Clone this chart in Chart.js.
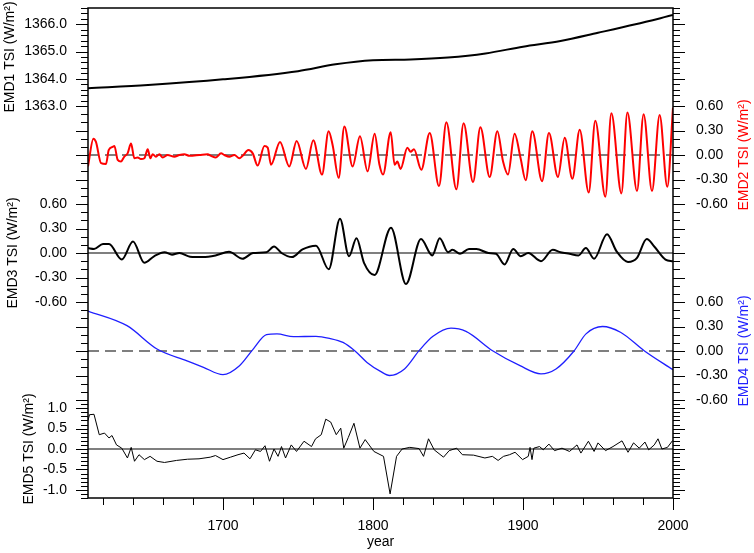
<!DOCTYPE html>
<html>
<head>
<meta charset="utf-8">
<title>EMD components of TSI</title>
<script src="https://cdn.jsdelivr.net/npm/chart.js@4.4.1/dist/chart.umd.min.js"></script>
<style>
  html, body { margin: 0; padding: 0; background: #fff; }
  #wrap { width: 754px; height: 553px; }
</style>
</head>
<body>
<div id="wrap"><canvas id="chart"></canvas></div>
<script>
'use strict';

// tick labels
const yearTicks = [1700, 1800, 1900, 2000];
const emd1Ticks = [1363, 1364, 1365, 1366];
const anomalyTicks = [-0.6, -0.3, 0, 0.3, 0.6];
const emd5Ticks = [-1, -0.5, 0, 0.5, 1];

// EMD1 - trend
const emd1Years = [1610, 1650, 1700, 1750, 1775, 1800, 1825, 1850, 1875, 1900, 1925, 1950, 1975, 2000];
const emd1Values = [1363.65, 1363.77, 1363.98, 1364.28, 1364.53, 1364.68, 1364.71, 1364.78, 1364.93, 1365.18, 1365.39, 1365.69, 1366.0, 1366.34];

// EMD2 - 11 year cycle (peaks and troughs)
const emd2Years = [1610, 1613.6, 1615.3, 1618.7, 1622, 1623.8, 1626.4, 1627.6, 1629.8, 1632, 1634.2, 1636.4, 1638.7,
  1640.9, 1643.1, 1645.3, 1647.6, 1649.8, 1651.6, 1653.1, 1655.3, 1657.6, 1659.8, 1663.1, 1667.6, 1670.9, 1674.2,
  1677.6, 1684.2, 1689.8, 1692, 1695.3, 1698.7, 1700.9, 1704.2, 1707.6, 1710.9, 1713.1, 1716.9, 1719.8, 1723.1,
  1727.6, 1729.8, 1732, 1738, 1744.2, 1749.1, 1755.3, 1760.2, 1766, 1770.4, 1773.1, 1777.1, 1780.9, 1786.4, 1791.3,
  1796.4, 1801.1, 1804.2, 1806.7, 1811.8, 1814.4, 1816.2, 1818.4, 1822.9, 1825.1, 1827.3, 1832.2, 1837.8, 1844,
  1848.9, 1855.6, 1860.4, 1866.7, 1871.6, 1877.8, 1882.9, 1886.7, 1890, 1894.4, 1898.4, 1901.8, 1906.2, 1912.7,
  1917.3, 1923.3, 1927.8, 1932.9, 1937.8, 1943.8, 1948.2, 1954.9, 1958.9, 1965.6, 1969.6, 1976, 1980.4, 1986,
  1991.1, 1996.2, 2000];
const emd2Values = [-0.14, 0.2, 0.16, -0.1, -0.11, 0.06, 0.1, 0.11, -0.06, -0.08, -0.02, 0.02, 0.14,
  -0.04, -0.03, -0.05, -0.04, 0.07, -0.04, 0.01, -0.02, 0.01, -0.03, 0.0, -0.02, 0.0, 0.01,
  -0.01, 0.0, 0.01, -0.01, -0.03, 0.02, 0.0, -0.02, 0.0, -0.04, -0.01, 0.06, 0.02, -0.13,
  0.11, 0.09, -0.12, 0.16, -0.14, 0.17, -0.17, 0.18, -0.24, 0.29, 0.12, -0.28, 0.35, -0.14, 0.23,
  -0.2, 0.26, -0.11, -0.24, 0.28, -0.12, -0.08, -0.17, 0.09, 0.04, 0.07, -0.18, 0.27, -0.38,
  0.4, -0.42, 0.39, -0.33, 0.34, -0.27, 0.29, -0.08, -0.24, 0.26, -0.04, -0.31, 0.29, -0.32,
  0.27, -0.27, 0.21, -0.29, 0.31, -0.46, 0.42, -0.51, 0.51, -0.47, 0.52, -0.44, 0.5, -0.44,
  0.49, -0.39, 0.58];

// EMD3
const emd3Years = [1610, 1614, 1620, 1624, 1632.5, 1640, 1647.5, 1654, 1661, 1666, 1671, 1678, 1686.5, 1695,
  1704, 1713, 1720, 1729, 1734, 1739, 1746, 1753, 1762, 1770.5, 1778, 1784, 1789, 1794, 1801, 1812, 1822,
  1832, 1839.5, 1844.5, 1850, 1853, 1858, 1864, 1869, 1877, 1882, 1887.7, 1893.5, 1898.5, 1903.5, 1912,
  1919.8, 1925, 1931, 1937, 1941.9, 1947.4, 1956, 1962.4, 1970, 1976, 1982.5, 1987.5, 1995, 2000];
const emd3Values = [0.06, 0.05, 0.11, 0.11, -0.08, 0.14, -0.12, -0.04, 0.01, -0.02, 0.0, -0.045, -0.05, -0.03,
  0.015, -0.07, 0.0, 0.01, 0.08, 0.0, -0.05, 0.045, 0.09, -0.2, 0.42, -0.04, 0.18, -0.12, -0.27, 0.31, -0.38,
  0.17, -0.03, 0.18, 0.01, 0.04, -0.01, 0.05, 0.05, 0.0, -0.01, -0.14, 0.05, -0.04, 0.0, -0.1,
  0.04, 0.01, -0.01, -0.03, 0.06, -0.07, 0.23, 0.02, -0.11, -0.06, 0.17, 0.08, -0.08, -0.1];

// EMD4
const emd4Years = [1610, 1636, 1656, 1676, 1687, 1700, 1711, 1720, 1729, 1736, 1747, 1762, 1771, 1780, 1788,
  1796, 1805, 1811, 1821, 1831, 1840, 1852, 1862, 1880, 1898, 1912, 1922, 1934, 1942, 1953, 1965, 1981, 2000];
const emd4Values = [0.49, 0.31, 0.025, -0.12, -0.2, -0.29, -0.18, 0.02, 0.2, 0.21, 0.175, 0.18, 0.155, 0.105, 0.0,
  -0.14, -0.25, -0.3, -0.22, 0.01, 0.18, 0.28, 0.24, 0.0, -0.18, -0.28, -0.22, 0.0, 0.21, 0.3, 0.23, 0.0, -0.23];

// EMD5
const emd5Years = [1610, 1611, 1614, 1617.5, 1621, 1624, 1626, 1629, 1632.5, 1636.3, 1638.8, 1641, 1644, 1647.6,
  1651.4, 1656, 1661, 1669, 1676.4, 1684, 1691.5, 1695, 1700, 1705, 1710, 1714, 1718, 1721.6, 1725, 1728, 1731,
  1734, 1736.7, 1739, 1741.7, 1745.5, 1749, 1754, 1759, 1761.7, 1765.5, 1768.5, 1771.8, 1775.5, 1778.5, 1780.5,
  1783.5, 1787.3, 1791.3, 1794.8, 1800.6, 1807, 1811.4, 1815.7, 1819.4, 1824.5, 1830.7, 1833.7, 1837, 1840.8,
  1847, 1850.8, 1855.8, 1859.6, 1867, 1874.6, 1879.6, 1883.4, 1887, 1891, 1894.7, 1899.7, 1903.5, 1904.7, 1906,
  1907.2, 1911, 1913.5, 1917.3, 1921, 1926, 1931, 1936, 1938.6, 1943.6, 1947.4, 1950, 1955, 1960, 1966, 1970,
  1973.7, 1977.5, 1981.3, 1983.8, 1987.5, 1990, 1992.6, 1996.3, 1999.6, 2000];
const emd5Values = [0.7, 0.84, 0.85, 0.35, 0.39, 0.27, 0.33, 0.1, 0.02, -0.22, 0.04, -0.3, -0.14, -0.26,
  -0.18, -0.3, -0.33, -0.28, -0.25, -0.24, -0.2, -0.16, -0.26, -0.2, -0.14, -0.1, -0.24, -0.02, -0.06, 0.08, -0.3,
  0.0, -0.18, 0.06, -0.22, 0.1, -0.06, 0.19, 0.06, 0.25, 0.35, 0.73, 0.66, 0.35, 0.51, 0.02,
  0.28, 0.63, 0.02, 0.23, -0.06, -0.18, -1.1, -0.18, 0.0, 0.04, 0.01, -0.18, 0.25, -0.02,
  -0.2, -0.04, 0.02, -0.14, -0.15, -0.22, -0.18, -0.28, -0.18, -0.14, -0.08, -0.26, -0.18, 0.04, -0.26,
  0.02, 0.06, -0.02, 0.12, -0.04, 0.02, -0.06, 0.1, -0.1, 0.19, -0.06, 0.15, -0.04, 0.06, 0.2, -0.08,
  0.15, 0.02, 0.17, -0.02, 0.1, 0.25, 0.0, 0.04, 0.2, 0.2];

const FONT = '14px "Liberation Sans", Arial, Helvetica, sans-serif';

// one stacked panel per component; each has its own y scale
const panels = [
  { id: 'y1', lo: 1363.0, hi: 1366.6, major: 1, minor: 0.2, ticks: emd1Ticks, digits: 1,
    side: 'left', title: 'EMD1 TSI (W/m²)', color: '#000', titleX: 10 },
  { id: 'y2', lo: -0.6, hi: 0.6, major: 0.3, minor: 0.1, ticks: anomalyTicks, digits: 2,
    side: 'right', title: 'EMD2 TSI (W/m²)', color: '#ff0000', titleX: 744 },
  { id: 'y3', lo: -0.6, hi: 0.6, major: 0.3, minor: 0.1, ticks: anomalyTicks, digits: 2,
    side: 'left', title: 'EMD3 TSI (W/m²)', color: '#000', titleX: 13 },
  { id: 'y4', lo: -0.6, hi: 0.6, major: 0.3, minor: 0.1, ticks: anomalyTicks, digits: 2,
    side: 'right', title: 'EMD4 TSI (W/m²)', color: '#1f1fff', titleX: 744 },
  { id: 'y5', lo: -1.2, hi: 1.2, major: 0.5, minor: 0.1, ticks: emd5Ticks, digits: 1,
    side: 'left', title: 'EMD5 TSI (W/m²)', color: '#000', titleX: 29 }
];

function pts(xs, ys) {
    return xs.map((x, i) => ({ x: x, y: ys[i] }));
}

function zeroLine(axis, dashed) {
    return {
        data: [{ x: 1610, y: 0 }, { x: 2000, y: 0 }],
        yAxisID: axis,
        borderColor: '#555',
        borderWidth: 1.5,
        borderDash: dashed ? [11, 6] : [],
        pointRadius: 0,
        order: 2
    };
}

function series(xs, ys, axis, color, width, smooth) {
    return {
        data: pts(xs, ys),
        yAxisID: axis,
        borderColor: color,
        borderWidth: width,
        pointRadius: 0,
        cubicInterpolationMode: smooth ? 'monotone' : 'default',
        tension: smooth ? 0.4 : 0,
        order: 1
    };
}

const scales = {
    x: { type: 'linear', min: 1610, max: 2000, display: false }
};
panels.forEach((p, i) => {
    const span = p.hi - p.lo;
    scales[p.id] = { type: 'linear', display: false, min: p.lo - (4 - i) * span, max: p.hi + i * span };
});

// frame, ticks, labels and titles
const frameAxes = {
    id: 'frameAxes',
    afterDatasetsDraw(chart) {
        const { ctx, chartArea: a } = chart;
        ctx.save();
        ctx.strokeStyle = '#000';
        ctx.lineWidth = 1;
        ctx.font = FONT;

        panels.forEach(p => {
            const s = chart.scales[p.id];
            const n = Math.round((p.hi - p.lo) / p.minor);
            ctx.beginPath();
            for (let k = 0; k <= n; k++) {
                const v = p.lo + k * p.minor;
                const r = v / p.major;
                const len = Math.abs(r - Math.round(r)) < 1e-6 ? 12 : 7;
                const y = Math.round(s.getPixelForValue(v)) + 0.5;
                ctx.moveTo(a.left - len, y); ctx.lineTo(a.left, y);
                ctx.moveTo(a.right, y); ctx.lineTo(a.right + len, y);
            }
            ctx.stroke();

            ctx.fillStyle = '#000';
            ctx.textBaseline = 'middle';
            p.ticks.forEach(t => {
                const y = s.getPixelForValue(t);
                if (p.side === 'left') {
                    ctx.textAlign = 'right';
                    ctx.fillText(t.toFixed(p.digits), a.left - 21, y);
                } else {
                    ctx.textAlign = 'left';
                    ctx.fillText(t.toFixed(p.digits), a.right + 23, y);
                }
            });

            ctx.save();
            ctx.translate(p.titleX, s.getPixelForValue((p.lo + p.hi) / 2));
            ctx.rotate(-Math.PI / 2);
            ctx.textAlign = 'center';
            ctx.fillStyle = p.color;
            ctx.fillText(p.title, 0, 0);
            ctx.restore();
        });

        // x axis
        const xs = chart.scales.x;
        ctx.beginPath();
        for (let yr = 1620; yr <= 2000; yr += 20) {
            const x = Math.round(xs.getPixelForValue(yr)) + 0.5;
            const len = yearTicks.includes(yr) ? 12 : 7;
            ctx.moveTo(x, a.bottom); ctx.lineTo(x, a.bottom + len);
        }
        ctx.stroke();
        ctx.fillStyle = '#000';
        ctx.textAlign = 'center';
        ctx.textBaseline = 'middle';
        yearTicks.forEach(yr => ctx.fillText(String(yr), xs.getPixelForValue(yr), a.bottom + 28));
        ctx.fillText('year', (a.left + a.right) / 2, a.bottom + 44);

        ctx.lineWidth = 1.5;
        ctx.strokeRect(a.left, a.top, a.right - a.left, a.bottom - a.top);
        ctx.restore();
    }
};

function renderChart() {
    const config = {
        type: 'line',
        data: {
            datasets: [
                zeroLine('y2', true),
                zeroLine('y3', false),
                zeroLine('y4', true),
                zeroLine('y5', false),
                series(emd1Years, emd1Values, 'y1', '#000', 2, true),
                series(emd2Years, emd2Values, 'y2', '#ff0000', 2, true),
                series(emd3Years, emd3Values, 'y3', '#000', 2, true),
                series(emd4Years, emd4Values, 'y4', '#1f1fff', 1.3, true),
                series(emd5Years, emd5Values, 'y5', '#000', 1, false)
            ]
        },
        options: {
            responsive: true,
            maintainAspectRatio: false,
            animation: false,
            layout: { padding: { left: 88, right: 81, top: 8, bottom: 55 } },
            scales: scales,
            plugins: { legend: { display: false }, tooltip: { enabled: false } }
        },
        plugins: [frameAxes]
    };
    new Chart(document.getElementById('chart'), config);
}

document.addEventListener('DOMContentLoaded', renderChart);
</script>
</body>
</html>
